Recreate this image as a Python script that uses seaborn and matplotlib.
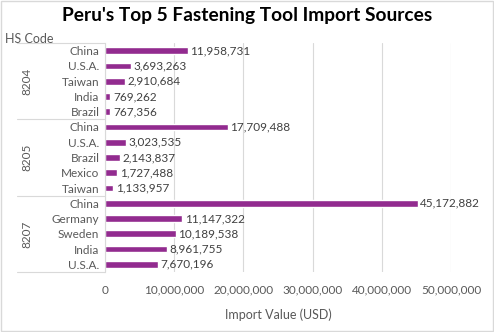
import matplotlib
matplotlib.use("Agg")
import matplotlib.pyplot as plt
import matplotlib.transforms as mtransforms
import seaborn as sns
import pandas as pd

hs_codes = ["8204"] * 5 + ["8205"] * 5 + ["8207"] * 5
countries = ["China", "U.S.A.", "Taiwan", "India", "Brazil",
             "China", "U.S.A.", "Brazil", "Mexico", "Taiwan",
             "China", "Germany", "Sweden", "India", "U.S.A."]
values = [11958731, 3693263, 2910684, 769262, 767356,
          17709488, 3023535, 2143837, 1727488, 1133957,
          45172882, 11147322, 10189538, 8961755, 7670196]
group_names = ["8204", "8205", "8207"]
x_ticks = [0, 10000000, 20000000, 30000000, 40000000, 50000000]

sns.set_theme(style="white")
plt.rcParams['font.family'] = ['Lato', 'DejaVu Sans']

df = pd.DataFrame({"hs": hs_codes, "country": countries, "value": values})
df["row"] = [f"{h}_{i}" for i, h in enumerate(hs_codes)]

fig = plt.figure(figsize=(4.94, 3.32), dpi=100)
W, H = 494, 332
ax = fig.add_axes([105 / W, 1 - 272 / H, (451 - 105) / W, (272 - 43) / H])

bar_color = "#922B8F"
sns.barplot(data=df, y="row", x="value", orient="h", color=bar_color,
            width=0.44, ax=ax, saturation=1)

ax.set_xlim(0, 50000000)
ax.set_ylim(len(values) - 0.5, -0.5)
ax.set_xticks(x_ticks)
ax.set_xticklabels([f"{t:,}" for t in x_ticks], fontsize=8.5, color="#595959")
ax.set_yticks(range(len(countries)))
ax.set_yticklabels(countries, fontsize=8.5, color="#595959")
ax.tick_params(axis="both", length=0, pad=4)
ax.tick_params(axis="x", pad=9)
ax.set_ylabel("")
ax.set_xlabel("Import Value (USD)", fontsize=9, color="#595959", labelpad=9)

ax.grid(axis="x", color="#D9D9D9", linewidth=0.8)
ax.set_axisbelow(True)
for s in ["top", "right", "bottom"]:
    ax.spines[s].set_visible(False)
ax.spines["left"].set_color("#D9D9D9")
ax.spines["left"].set_linewidth(0.8)

for i, v in enumerate(values):
    ax.text(v + 400000, i, f"{v:,}", va="center", ha="left",
            fontsize=8.5, color="#404040")

# group separators and labels
trans = mtransforms.blended_transform_factory(ax.transAxes, ax.transData)
left_frac = (17 - 105) / (451 - 105)
for b in [-0.5, 4.5, 9.5, 14.5]:
    ax.plot([left_frac, 0], [b, b], transform=trans, color="#D9D9D9",
            linewidth=0.8, clip_on=False)
label_frac = (27 - 105) / (451 - 105)
for g, name in enumerate(group_names):
    ax.text(label_frac, g * 5 + 2, name, transform=trans, rotation=90,
            va="center", ha="center", fontsize=8.5, color="#595959")

fig.text(5 / W, 1 - 39 / H, "HS Code", fontsize=9, color="#595959",
         ha="left", va="center")
fig.text(0.5, 1 - 16 / H, "Peru's Top 5 Fastening Tool Import Sources",
         fontsize=13.8, fontweight="bold", color="black", ha="center", va="center")

# chart border
fig.patches.append(plt.Rectangle((0.002, 0.003), 0.996, 0.994, transform=fig.transFigure,
                                 fill=False, edgecolor="#D9D9D9", linewidth=1))

fig.savefig("out.png", dpi=100)
